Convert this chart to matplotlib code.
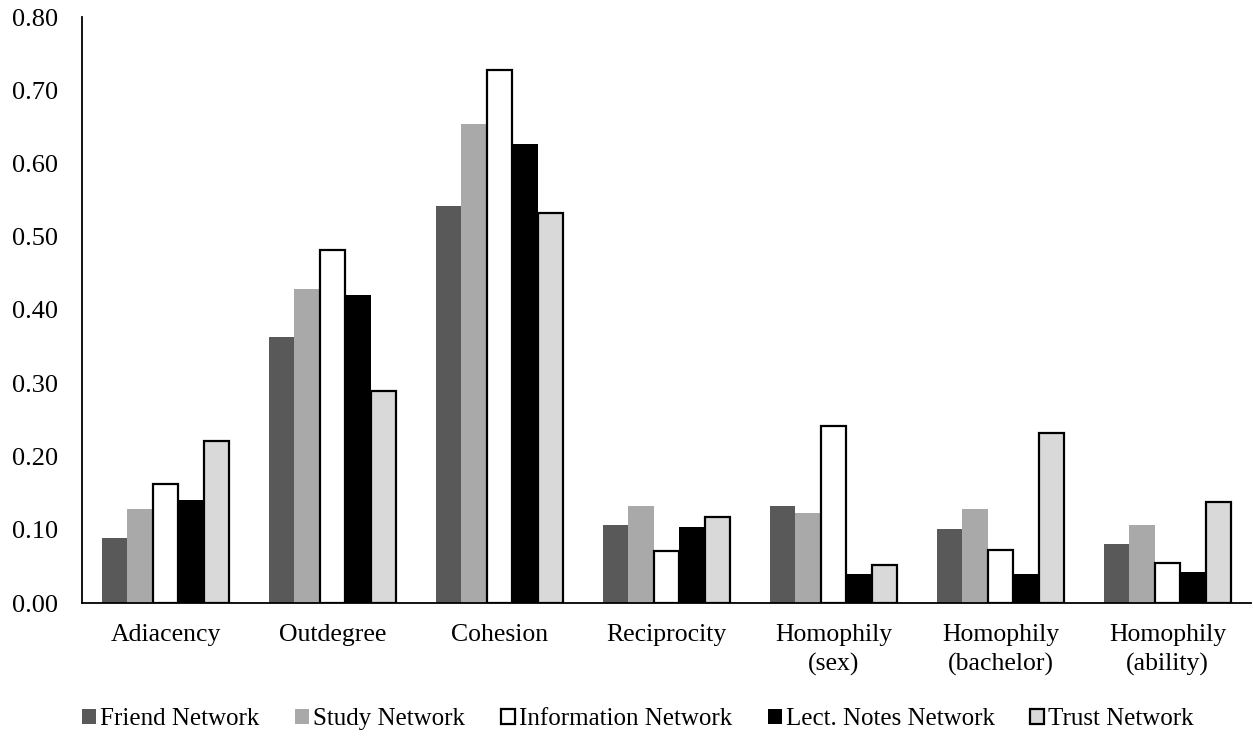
import matplotlib
matplotlib.use('agg')
import matplotlib.pyplot as plt
import numpy as np

plt.rcParams['font.family'] = ['Liberation Serif', 'DejaVu Serif']

categories = ['Adiacency', 'Outdegree', 'Cohesion', 'Reciprocity',
              'Homophily\n(sex)', 'Homophily\n(bachelor)', 'Homophily\n(ability)']
series_names = ['Friend Network', 'Study Network', 'Information Network',
                'Lect. Notes Network', 'Trust Network']

friend = [0.089, 0.363, 0.542, 0.107, 0.132, 0.101, 0.080]
study = [0.129, 0.428, 0.654, 0.132, 0.123, 0.129, 0.107]
information = [0.163, 0.482, 0.727, 0.071, 0.242, 0.073, 0.055]
lect_notes = [0.140, 0.420, 0.627, 0.104, 0.039, 0.039, 0.042]
trust = [0.221, 0.289, 0.533, 0.117, 0.052, 0.232, 0.138]

yticks = [0.0, 0.1, 0.2, 0.3, 0.4, 0.5, 0.6, 0.7, 0.8]

series = [friend, study, information, lect_notes, trust]
faces = ['#595959', '#a9a9a9', '#ffffff', '#000000', '#d9d9d9']
edges = ['none', 'none', '#000000', 'none', '#000000']

fig = plt.figure(figsize=(12.53, 7.40), dpi=100)
ax = fig.add_axes([82 / 1253, 1 - 603 / 740, (1251 - 82) / 1253, (603 - 17) / 740])

x = np.arange(len(categories))
w = 0.152
for i, vals in enumerate(series):
    ax.bar(x + (i - 2) * w, vals, width=w, color=faces[i],
           edgecolor=edges[i], linewidth=1.6 if edges[i] != 'none' else 0,
           label=series_names[i], zorder=2)

ax.set_xlim(-0.5, len(categories) - 0.5)
ax.set_ylim(0, 0.8)
ax.set_yticks(yticks)
ax.set_yticklabels(['%.2f' % v for v in yticks])
ax.set_xticks(x)
ax.set_xticklabels(categories, linespacing=1.4)
ax.tick_params(axis='both', length=0, labelsize=18.5)
ax.tick_params(axis='y', labelsize=19, pad=17)
ax.tick_params(axis='x', pad=15)

for s in ['top', 'right']:
    ax.spines[s].set_visible(False)
for s in ['left', 'bottom']:
    ax.spines[s].set_linewidth(1.3)

leg = ax.legend(loc='center', bbox_to_anchor=(0.4756, -0.198), ncol=5,
                frameon=False, fontsize=18, handlelength=0.56,
                handleheight=0.56, handletextpad=0.16, columnspacing=1.43)

plt.savefig('out.png', dpi=100)
